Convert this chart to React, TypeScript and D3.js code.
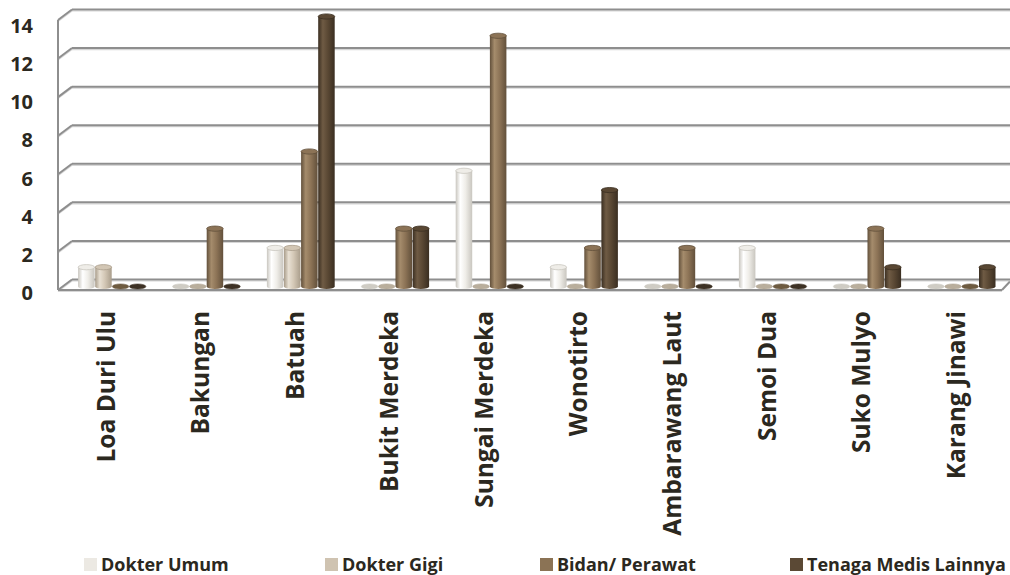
import React from "react";
import * as d3 from "d3";

const categories = ["Loa Duri Ulu", "Bakungan", "Batuah", "Bukit Merdeka", "Sungai Merdeka", "Wonotirto", "Ambarawang Laut", "Semoi Dua", "Suko Mulyo", "Karang Jinawi"];
const seriesNames = ["Dokter Umum", "Dokter Gigi", "Bidan/ Perawat", "Tenaga Medis Lainnya"];
const dokterUmum = [1, 0, 2, 0, 6, 1, 0, 2, 0, 0];
const dokterGigi = [1, 0, 2, 0, 0, 0, 0, 0, 0, 0];
const bidanPerawat = [0, 3, 7, 3, 13, 2, 2, 0, 3, 0];
const tenagaLain = [0, 0, 14, 3, 0, 5, 0, 0, 1, 1];
const yTicks = [0, 2, 4, 6, 8, 10, 12, 14];

const seriesValues = [dokterUmum, dokterGigi, bidanPerawat, tenagaLain];
const seriesColors = [
  { base: "#efede8", dark: "#c9c6bf", light: "#ffffff", legend: "#ece9e3", flat: "#cfccc4" },
  { base: "#d2c6b4", dark: "#a99d8b", light: "#e8e0d3", legend: "#cfc3b1", flat: "#b9ae9c" },
  { base: "#8c7356", dark: "#62503b", light: "#a58c6c", legend: "#8b7355", flat: "#6e5b40" },
  { base: "#594733", dark: "#3a2e21", light: "#6f5b44", legend: "#5b4935", flat: "#3d3124" },
];

const W = 1010;
const H = 575;
const textColor = "#2b2820";

export default function App() {
  const yBack = d3.scaleLinear().domain([0, 14]).range([279.5, 9.5]);
  const yLabel = d3.scaleLinear().domain([0, 14]).range([292.5, 25.5]);
  const barOffset = 7;
  const yBar = (v: number) => yBack(v) + barOffset;
  const x0 = d3
    .scaleBand<string>()
    .domain(categories)
    .range([64.8, 1008.8])
    .paddingInner(26 / 94.4)
    .paddingOuter(13 / 94.4);
  const x1 = d3.scaleBand<string>().domain(seriesNames).range([0, x0.bandwidth()]);
  const bw = x1.bandwidth();
  const rx = bw / 2 - 0.3;
  const ry = 2.6;
  const backLeft = 72;
  const backRight = 1010;
  const frontLeft = 58;
  const dxF = -14;
  const dyF = 10.5;
  const gridColor = "#8e8e8e";

  const legendX = [84, 325, 540, 790];

  return (
    <svg width={W} height={H} style={{ position: "absolute", left: 0, top: 0, background: "#fff" }}>
      <defs>
        {seriesColors.map((c, i) => (
          <linearGradient key={i} id={`cyl${i}`} x1="0" x2="1" y1="0" y2="0">
            <stop offset="0%" stopColor={c.dark} />
            <stop offset="28%" stopColor={c.light} />
            <stop offset="60%" stopColor={c.base} />
            <stop offset="100%" stopColor={c.dark} />
          </linearGradient>
        ))}
      </defs>
      {/* walls and gridlines */}
      <g>
        {yTicks.map((t) => {
          const yb = yBack(t);
          return (
            <g key={t}>
              {t > 0 && (
                <>
                  <line x1={backLeft} x2={backRight} y1={yb + 1.5} y2={yb + 1.5} stroke="#d6d6d6" strokeWidth={1.2} />
                  <line x1={backLeft} x2={backRight} y1={yb} y2={yb} stroke={gridColor} strokeWidth={2} />
                </>
              )}
              <line x1={frontLeft} y1={yb + dyF + 1.5} x2={backLeft} y2={yb + 1.5} stroke="#d6d6d6" strokeWidth={1.2} />
              <line x1={frontLeft} y1={yb + dyF} x2={backLeft} y2={yb} stroke={gridColor} strokeWidth={2} />
            </g>
          );
        })}
        <line x1={frontLeft} x2={frontLeft} y1={yBack(14) + dyF} y2={yBack(0) + dyF} stroke={gridColor} strokeWidth={2} />
        {/* floor */}
        <line x1={backLeft} x2={backRight} y1={yBack(0) + 1.5} y2={yBack(0) + 1.5} stroke="#d6d6d6" strokeWidth={1.2} />
        <line x1={backLeft} x2={backRight} y1={yBack(0)} y2={yBack(0)} stroke={gridColor} strokeWidth={2} />
        <line x1={frontLeft} x2={backRight + dxF + 6} y1={yBack(0) + dyF} y2={yBack(0) + dyF} stroke={gridColor} strokeWidth={2} />
        <line x1={frontLeft} x2={backRight + dxF + 6} y1={yBack(0) + dyF + 1.5} y2={yBack(0) + dyF + 1.5} stroke="#d6d6d6" strokeWidth={1.2} />
        <line x1={backRight + dxF + 6} y1={yBack(0) + dyF} x2={backRight} y2={yBack(0) + 2} stroke={gridColor} strokeWidth={2} />
      </g>
      {/* y labels */}
      <g>
        {yTicks.map((t) => (
          <text
            key={t}
            x={33}
            y={yLabel(t)}
            textAnchor="end"
            dominantBaseline="central"
            fontFamily="'Open Sans', sans-serif"
            fontWeight={700}
            fontSize={20}
            fill={textColor}
          >
            {t}
          </text>
        ))}
      </g>
      {/* cylinders */}
      <g>
        {categories.map((cat, ci) => (
          <g key={cat} transform={`translate(${x0(cat)},0)`}>
            {seriesNames.map((s, si) => {
              const v = seriesValues[si][ci];
              const cx = (x1(s) as number) + bw / 2;
              const yb = yBar(0);
              const c = seriesColors[si];
              if (v === 0) {
                return <ellipse key={s} cx={cx} cy={yb} rx={rx} ry={ry} fill={c.flat} stroke={c.dark} strokeWidth={0.5} />;
              }
              const yt = yBar(v);
              return (
                <g key={s}>
                  <path
                    d={`M${cx - rx},${yt} L${cx - rx},${yb} A${rx},${ry} 0 0 0 ${cx + rx},${yb} L${cx + rx},${yt} Z`}
                    fill={`url(#cyl${si})`}
                  />
                  <ellipse cx={cx} cy={yt} rx={rx} ry={ry} fill={c.base} stroke={c.dark} strokeWidth={0.8} />
                </g>
              );
            })}
          </g>
        ))}
      </g>
      {/* category labels */}
      <g>
        {categories.map((cat) => {
          const cx = (x0(cat) as number) + x0.bandwidth() / 2 + 3;
          return (
            <text
              key={cat}
              transform={`translate(${cx},311) rotate(-90)`}
              textAnchor="end"
              fontFamily="'Open Sans', sans-serif"
              fontWeight={700}
              fontSize={24.5}
              fill={textColor}
            >
              {cat}
            </text>
          );
        })}
      </g>
      {/* legend */}
      <g>
        {seriesNames.map((s, i) => (
          <g key={s} transform={`translate(${legendX[i]},558)`}>
            <rect x={0} y={0} width={13} height={13} fill={seriesColors[i].legend} />
            <text
              x={17}
              y={13}
              fontFamily="'Open Sans', sans-serif"
              fontWeight={700}
              fontSize={18}
              fill={textColor}
            >
              {s}
            </text>
          </g>
        ))}
      </g>
    </svg>
  );
}
